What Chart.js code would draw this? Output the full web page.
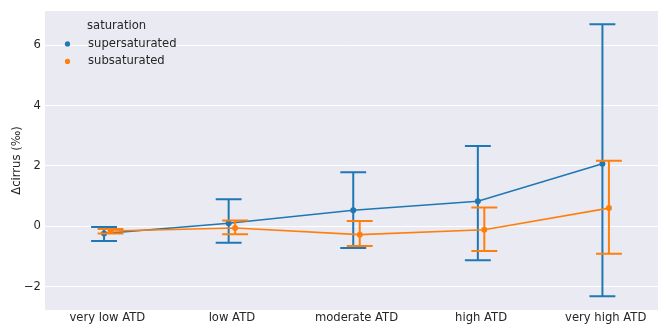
<!DOCTYPE html>
<html>
<head>
<meta charset="utf-8">
<script src="https://cdn.jsdelivr.net/npm/chart.js@4.4.1/dist/chart.umd.min.js"></script>
<style>
  html, body { margin: 0; padding: 0; background: #ffffff; }
  #wrap { width: 658px; height: 324px; }
</style>
</head>
<body>
<div id="wrap"><canvas id="c" width="658" height="324"></canvas></div>
<script>
// ATD categories along the x axis
const categories = ['very low ATD', 'low ATD', 'moderate ATD', 'high ATD', 'very high ATD'];

// supersaturated: mean and confidence interval bounds (‰)
const superMean = [-0.24, 0.10, 0.53, 0.83, 2.07];
const superLow  = [-0.49, -0.55, -0.72, -1.13, -2.32];
const superHigh = [-0.03, 0.89, 1.79, 2.66, 6.70];

// subsaturated: mean and confidence interval bounds (‰)
const subMean = [-0.16, -0.06, -0.28, -0.12, 0.60];
const subLow  = [-0.24, -0.27, -0.66, -0.82, -0.91];
const subHigh = [-0.09, 0.19, 0.17, 0.62, 2.17];

const yTicks = [-2, 0, 2, 4, 6];

const BLUE = '#1f77b4';
const ORANGE = '#ff7f0e';
const FONT = "'DejaVu Sans', sans-serif";
const DODGE = 0.026;
const CAP = 0.104;

function series(means, lows, highs, shift) {
  return means.map((m, i) => ({ x: i + shift, y: m, lo: lows[i], hi: highs[i] }));
}

// background of the plotting area
const areaBg = {
  id: 'areaBg',
  beforeDraw(chart) {
    const { ctx, chartArea: a } = chart;
    ctx.save();
    ctx.fillStyle = '#eaeaf2';
    ctx.fillRect(a.left, a.top, a.right - a.left, a.bottom - a.top);
    ctx.restore();
  }
};

// confidence-interval whiskers with caps, drawn under each series' line
const errorBars = {
  id: 'errorBars',
  beforeDatasetDraw(chart, args) {
    const ds = chart.data.datasets[args.index];
    const xs = chart.scales.x, ys = chart.scales.y;
    const ctx = chart.ctx;
    ctx.save();
    ctx.strokeStyle = ds.borderColor;
    ctx.lineWidth = 2;
    ctx.lineCap = 'butt';
    ds.data.forEach(p => {
      const x = xs.getPixelForValue(p.x);
      const xl = xs.getPixelForValue(p.x - CAP);
      const xr = xs.getPixelForValue(p.x + CAP);
      const yl = ys.getPixelForValue(p.lo);
      const yh = ys.getPixelForValue(p.hi);
      ctx.beginPath();
      ctx.moveTo(x, yl); ctx.lineTo(x, yh);
      ctx.moveTo(xl, yl); ctx.lineTo(xr, yl);
      ctx.moveTo(xl, yh); ctx.lineTo(xr, yh);
      ctx.stroke();
    });
    ctx.restore();
  }
};

// legend with title, placed in the upper-left of the plot area
const hueLegend = {
  id: 'hueLegend',
  afterDraw(chart) {
    const { ctx, chartArea: a } = chart;
    ctx.save();
    ctx.font = '11.6px ' + FONT;
    ctx.textBaseline = 'middle';
    ctx.fillStyle = '#262626';
    ctx.textAlign = 'left';
    ctx.fillText('saturation', a.left + 42, a.top + 15);
    chart.data.datasets.forEach((ds, i) => {
      const y = a.top + 33 + i * 17.5;
      ctx.fillStyle = ds.borderColor;
      ctx.beginPath();
      ctx.arc(a.left + 22.5, y, 2.6, 0, Math.PI * 2);
      ctx.fill();
      ctx.fillStyle = '#262626';
      ctx.fillText(ds.label, a.left + 43, y);
    });
    ctx.restore();
  }
};

new Chart(document.getElementById('c'), {
  type: 'line',
  data: {
    datasets: [
      {
        label: 'supersaturated',
        data: series(superMean, superLow, superHigh, -DODGE),
        borderColor: BLUE, backgroundColor: BLUE,
        borderWidth: 1.6, pointRadius: 3, pointBorderWidth: 0,
        tension: 0, order: 2
      },
      {
        label: 'subsaturated',
        data: series(subMean, subLow, subHigh, DODGE),
        borderColor: ORANGE, backgroundColor: ORANGE,
        borderWidth: 1.6, pointRadius: 3, pointBorderWidth: 0,
        tension: 0, order: 1
      }
    ]
  },
  options: {
    responsive: false,
    animation: false,
    layout: { autoPadding: false, padding: { top: 10, right: 0, left: 0, bottom: 0 } },
    plugins: { legend: { display: false }, tooltip: { enabled: false } },
    scales: {
      x: {
        type: 'linear',
        min: -0.5, max: 4.42,
        afterBuildTicks(scale) {
          scale.ticks = categories.map((_, i) => ({ value: i }));
        },
        afterFit(scale) { scale.height = 14; },
        grid: { display: false, drawTicks: false },
        border: { display: false },
        ticks: {
          padding: 1,
          color: '#262626',
          font: { family: FONT, size: 11.6 },
          maxRotation: 0,
          autoSkip: false,
          callback: v => categories[v]
        }
      },
      y: {
        min: -2.78, max: 7.14,
        afterBuildTicks(scale) {
          scale.ticks = yTicks.map(v => ({ value: v }));
        },
        afterFit(scale) { scale.width = 45; },
        grid: { color: '#ffffff', lineWidth: 1, drawTicks: false },
        border: { display: false },
        ticks: {
          padding: 4,
          color: '#262626',
          font: { family: FONT, size: 11.6 },
          callback: v => String(v).replace('-', '\u2212')
        },
        title: {
          display: true,
          text: '\u0394cirrus (\u2030)',
          color: '#262626',
          font: { family: FONT, size: 11.6 },
          padding: { top: 10, bottom: 0 }
        }
      }
    }
  },
  plugins: [areaBg, errorBars, hueLegend]
});
</script>
</body>
</html>
